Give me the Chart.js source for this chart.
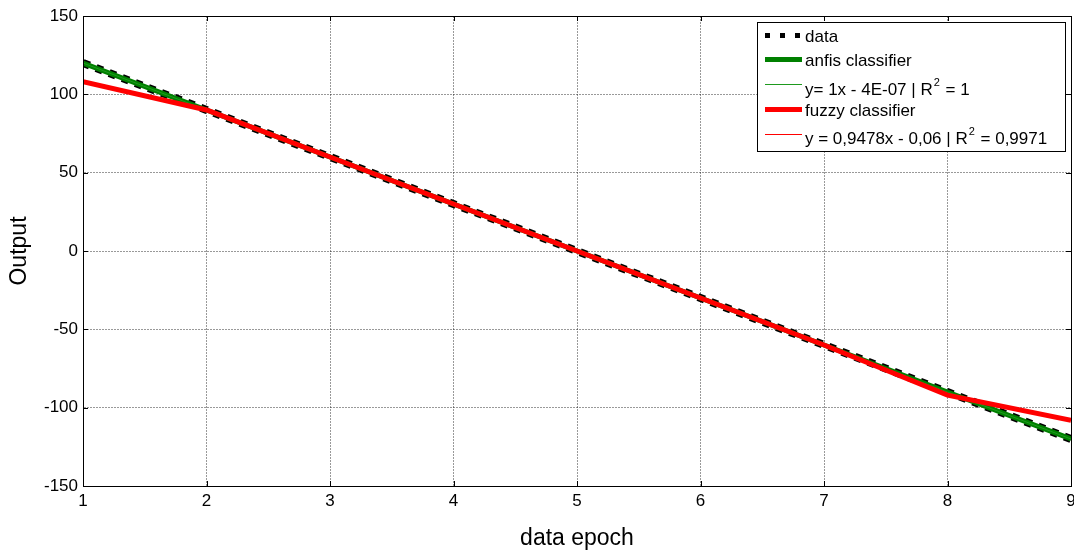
<!DOCTYPE html>
<html>
<head>
<meta charset="utf-8">
<script src="https://cdn.jsdelivr.net/npm/chart.js@4"></script>
<style>
  html, body { margin: 0; padding: 0; background: #fff; }
  #wrap { width: 1074px; height: 552px; }
</style>
</head>
<body>
<div id="wrap"><canvas id="chart" width="1074" height="552"></canvas></div>
<script>
const epochs = [1, 2, 3, 4, 5, 6, 7, 8, 9]
const dataValues = [120, 90, 60, 30, 0, -30, -60, -90, -120]
const anfisValues = [120, 90, 60, 30, 0, -30, -60, -90, -120]
const anfisTrend = [120, 90, 60, 30, 0, -30, -60, -90, -120]
const fuzzyValues = [108, 90, 60, 30, 0, -30, -60, -92, -108]
const fuzzyTrend = [108, 90, 60, 30, 0, -30, -60, -92, -108]
const yTicks = [-150, -100, -50, 0, 50, 100, 150]
const legendLabels = [
    'data',
    'anfis classifier',
    'y= 1x - 4E-07 | R^2 = 1',
    'fuzzy classifier',
    'y = 0,9478x - 0,06 | R^2 = 0,9971'
]

const FONT = '"Liberation Sans", Arial, sans-serif'

const toPoints = (vals) => vals.map((v, i) => ({ x: epochs[i], y: v }))

// frame around the plot (MATLAB "box on")
const boxPlugin = {
    id: 'box',
    afterDraw(chart) {
        const { ctx, chartArea: a } = chart
        ctx.save()
        ctx.strokeStyle = '#000'
        ctx.lineWidth = 1
        ctx.strokeRect(Math.round(a.left) + 0.5, Math.round(a.top) + 0.5,
            Math.round(a.right - a.left), Math.round(a.bottom - a.top))
        // small inward tick marks
        const xs = chart.scales.x, ys = chart.scales.y
        ctx.beginPath()
        epochs.forEach(e => {
            const px = Math.round(xs.getPixelForValue(e)) + 0.5
            ctx.moveTo(px, a.bottom); ctx.lineTo(px, a.bottom - 5)
            ctx.moveTo(px, a.top); ctx.lineTo(px, a.top + 5)
        })
        yTicks.forEach(t => {
            const py = Math.round(ys.getPixelForValue(t)) + 0.5
            ctx.moveTo(a.left, py); ctx.lineTo(a.left + 5, py)
            ctx.moveTo(a.right, py); ctx.lineTo(a.right - 5, py)
        })
        ctx.stroke()
        ctx.restore()
    }
}

// legend box drawn inside the plot, top right
const legendPlugin = {
    id: 'boxLegend',
    afterDraw(chart) {
        const { ctx } = chart
        const x0 = 757.5, y0 = 22.5, w = 308, h = 129
        const lineY = [35, 59, 84, 109, 134]
        const textY = [36, 60, 89, 110, 138]
        ctx.save()
        ctx.fillStyle = '#fff'
        ctx.fillRect(x0, y0, w, h)
        ctx.strokeStyle = '#000'
        ctx.lineWidth = 1
        ctx.strokeRect(x0, y0, w, h)
        ctx.textBaseline = 'middle'
        chart.data.datasets.forEach((ds, i) => {
            ctx.save()
            ctx.strokeStyle = ds.borderColor
            ctx.lineWidth = ds.legendWidth || ds.borderWidth
            ctx.setLineDash(ds.legendDash || [])
            ctx.beginPath()
            ctx.moveTo(765, lineY[i] + 0.5)
            ctx.lineTo(802, lineY[i] + 0.5)
            ctx.stroke()
            ctx.restore()
            ctx.fillStyle = '#000'
            let tx = 805
            const parts = legendLabels[i].split('^2')
            parts.forEach((p, k) => {
                ctx.font = '17px ' + FONT
                ctx.fillText(p, tx, textY[i] + 1)
                tx += ctx.measureText(p).width
                if (k < parts.length - 1) {
                    ctx.font = '11px ' + FONT
                    ctx.fillText('2', tx + 1, textY[i] - 6)
                    tx += ctx.measureText('2').width + 2
                }
            })
        })
        ctx.restore()
    }
}

const config = {
    type: 'line',
    data: {
        datasets: [
            {
                label: legendLabels[0],
                data: toPoints(dataValues),
                borderColor: '#000',
                borderWidth: 8,
                borderDash: [7, 7],
                legendWidth: 5,
                legendDash: [5, 10],
                order: 5
            },
            {
                label: legendLabels[1],
                data: toPoints(anfisValues),
                borderColor: '#008000',
                borderWidth: 5,
                order: 4
            },
            {
                label: legendLabels[2],
                data: toPoints(anfisTrend),
                borderColor: '#1e9a1e',
                borderWidth: 1,
                order: 3
            },
            {
                label: legendLabels[3],
                data: toPoints(fuzzyValues),
                borderColor: '#ff0000',
                borderWidth: 5,
                order: 2
            },
            {
                label: legendLabels[4],
                data: toPoints(fuzzyTrend),
                borderColor: '#ff0000',
                borderWidth: 1,
                order: 1
            }
        ]
    },
    options: {
        responsive: false,
        animation: false,
        elements: { point: { radius: 0 }, line: { tension: 0 } },
        layout: { padding: { top: 16, right: 3, left: 0, bottom: 0 } },
        plugins: {
            legend: { display: false },
            tooltip: { enabled: false }
        },
        scales: {
            x: {
                type: 'linear',
                min: 1,
                max: 9,
                afterFit: (s) => { s.height = 66; s.paddingLeft = 0; s.paddingRight = 0 },
                afterBuildTicks: (s) => { s.ticks = epochs.map(v => ({ value: v })) },
                ticks: { color: '#000', font: { family: FONT, size: 17 }, padding: 5, maxRotation: 0 },
                grid: { color: 'rgba(0,0,0,0.4)', drawTicks: false },
                border: { display: true, color: '#000', dash: [2, 1] },
                title: {
                    display: true,
                    text: 'data epoch',
                    color: '#000',
                    font: { family: FONT, size: 23 },
                    padding: { top: 0, bottom: 0 }
                }
            },
            y: {
                min: -150,
                max: 150,
                afterFit: (s) => { s.width = 83 },
                afterBuildTicks: (s) => { s.ticks = yTicks.map(v => ({ value: v })) },
                ticks: { color: '#000', font: { family: FONT, size: 17 }, padding: 5 },
                grid: { color: 'rgba(0,0,0,0.4)', drawTicks: false },
                border: { display: true, color: '#000', dash: [2, 1] },
                title: {
                    display: true,
                    text: 'Output',
                    color: '#000',
                    font: { family: FONT, size: 23 },
                    padding: { top: 6, bottom: 0 }
                }
            }
        }
    },
    plugins: [boxPlugin, legendPlugin]
}

new Chart(document.getElementById('chart').getContext('2d'), config)
</script>
</body>
</html>
